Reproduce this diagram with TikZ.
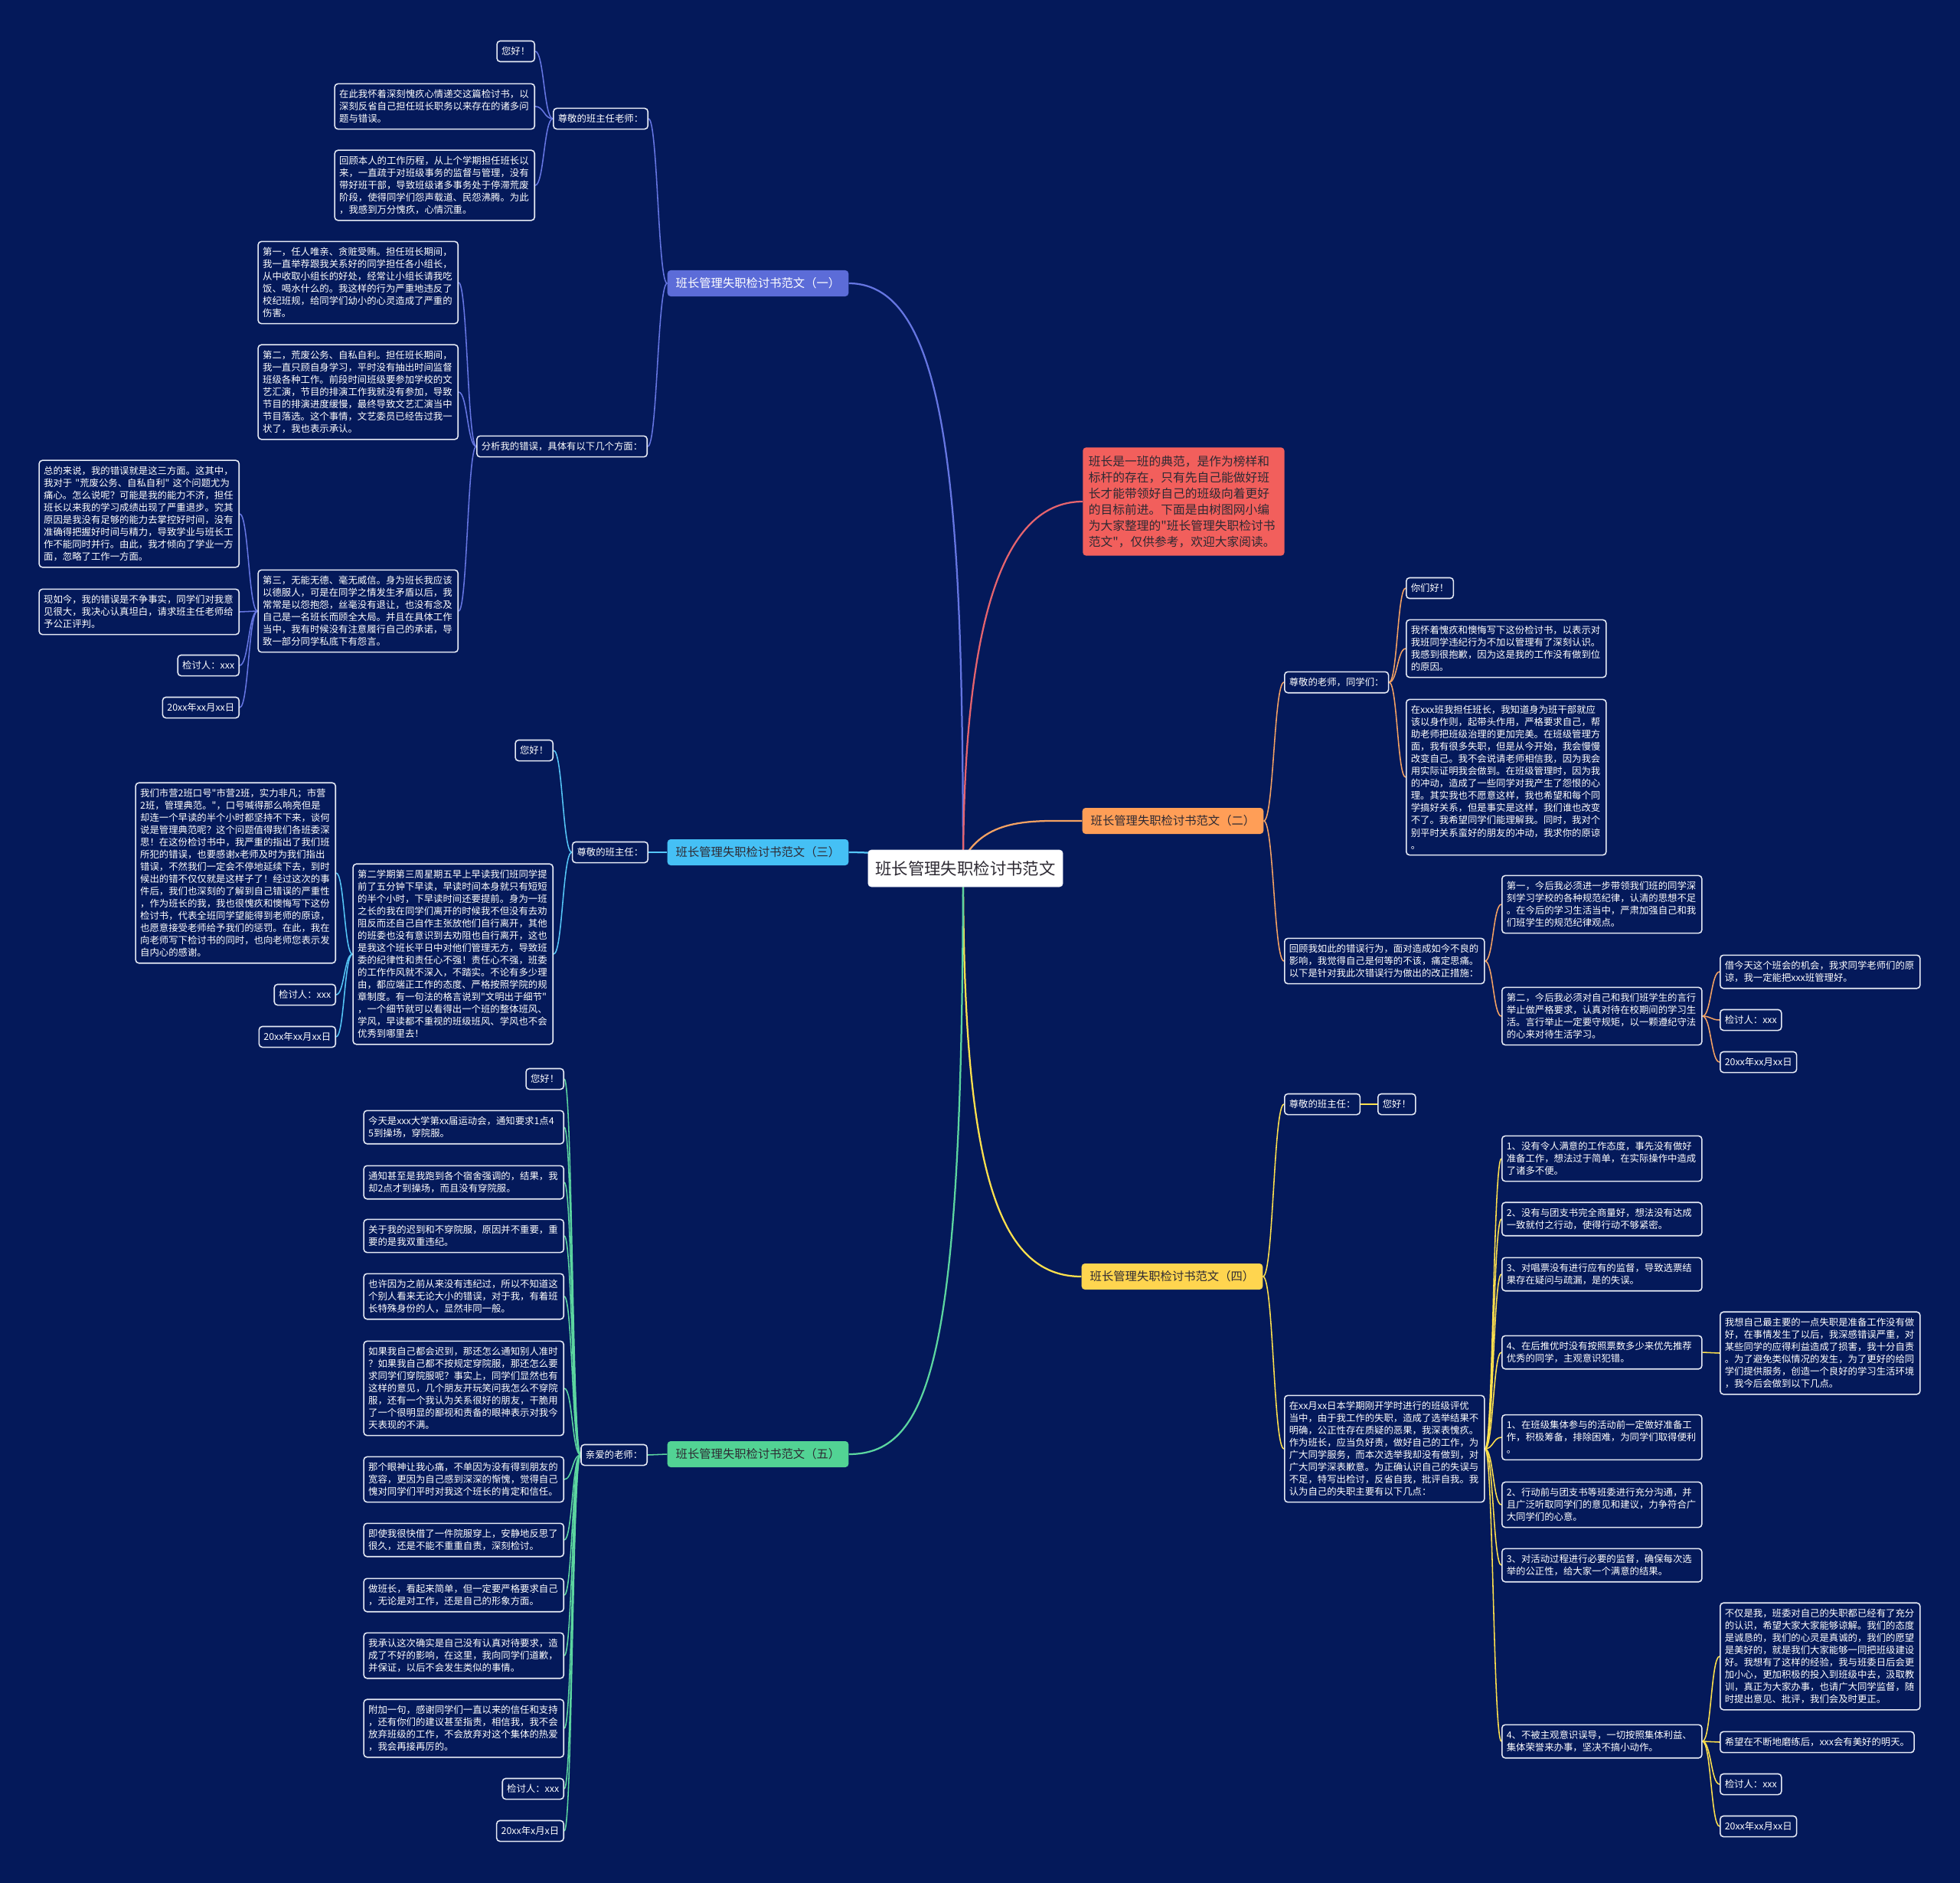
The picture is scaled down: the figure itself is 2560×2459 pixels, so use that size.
\documentclass[tikz,border=0pt]{standalone}
\usepackage{fontspec}
\newfontfamily\cjk{Noto Sans CJK SC}
\usetikzlibrary{calc}

\definecolor{bgc}{HTML}{04195A}
\definecolor{boxline}{HTML}{E6EAF5}
\definecolor{c1fill}{HTML}{5C6CD8}
\definecolor{c1line}{HTML}{6676E2}
\definecolor{c2fill}{HTML}{FF9E57}
\definecolor{c2line}{HTML}{F5A263}
\definecolor{c3fill}{HTML}{45C0F5}
\definecolor{c3line}{HTML}{55C6F7}
\definecolor{c4fill}{HTML}{FFD54F}
\definecolor{c4line}{HTML}{FFE14D}
\definecolor{c5fill}{HTML}{52D394}
\definecolor{c5line}{HTML}{5CD6A0}
\definecolor{introfill}{HTML}{F25F5C}
\definecolor{introline}{HTML}{E6646E}
\definecolor{darktext}{HTML}{2E2A33}

\pgfdeclarelayer{bglayer}
\pgfdeclarelayer{edgelayer}
\pgfsetlayers{bglayer,edgelayer,main}

\begin{document}
\begin{tikzpicture}[x=0.025cm, y=-0.025cm,
    leaf/.style={draw=boxline, line width=1.1pt, fill=bgc, rounded corners=3pt, text=white,
        font=\cjk\fontsize{8.8}{11.4}\selectfont, inner xsep=0.15cm, inner ysep=0.195cm},
    para/.style={leaf, text width=6.225cm, align=left},
    branch/.style={rounded corners=3pt, font=\cjk\fontsize{10.9}{13}\selectfont,
        inner xsep=0.275cm, minimum height=0.85cm, text=darktext},
    trunk/.style={line width=1.6pt},
    twig/.style={line width=1.1pt},
    link/.style={to path={let \p1=(\tikztostart), \p2=(\tikztotarget) in
        .. controls ({(\x1+\x2)/2},\y1) and ({(\x1+\x2)/2},\y2) .. (\tikztotarget)}}]

    \useasboundingbox (0,0) rectangle (2560,2459);
    \begin{pgfonlayer}{bglayer}
        \fill[bgc] (0,0) rectangle (2560,2459);
    \end{pgfonlayer}

    % centre and main branches
    \node[draw=boxline, fill=white, rounded corners=3pt, text=darktext, inner xsep=0.24cm,
        minimum height=1.2cm, font=\cjk\fontsize{15.2}{18}\selectfont] (root) at (1261,1134) {班长管理失职检讨书范文};
    \coordinate (hub) at (1258,1122);
    \node[branch, fill=c1fill, text=white] (b1) at (990,370) {班长管理失职检讨书范文（一）};
    \node[branch, fill=c2fill] (b2) at (1532,1072) {班长管理失职检讨书范文（二）};
    \node[branch, fill=c3fill] (b3) at (990,1113) {班长管理失职检讨书范文（三）};
    \node[branch, fill=c4fill] (b4) at (1531,1667) {班长管理失职检讨书范文（四）};
    \node[branch, fill=c5fill] (b5) at (990,1899) {班长管理失职检讨书范文（五）};
    \node[fill=introfill, rounded corners=3pt, text=darktext, anchor=west, text width=6.2cm, align=left,
        inner xsep=0.19cm, inner ysep=0.26cm, font=\cjk\fontsize{11.2}{15}\selectfont] (intro) at (1414,655)
        {班长是一班的典范，是作为榜样和\\标杆的存在，只有先自己能做好班\\长才能带领好自己的班级向着更好\\的目标前进。下面是由树图网小编\\为大家整理的"班长管理失职检讨书\\范文"，仅供参考，欢迎大家阅读。};

    % (一)
    \node[leaf, anchor=east] (t1) at (847,155) {尊敬的班主任老师：};
    \node[leaf, anchor=east] (t1a) at (699,67) {您好！};
    \node[para, anchor=east] (t1b) at (699,139) {在此我怀着深刻愧疚心情递交这篇检讨书，以\\深刻反省自己担任班长职务以来存在的诸多问\\题与错误。};
    \node[para, anchor=east] (t1c) at (699,242) {回顾本人的工作历程，从上个学期担任班长以\\来，一直疏于对班级事务的监督与管理，没有\\带好班干部，导致班级诸多事务处于停滞荒废\\阶段，使得同学们怨声载道、民怨沸腾。为此\\，我感到万分愧疚，心情沉重。};
    \node[leaf, anchor=east] (a1) at (846,583) {分析我的错误，具体有以下几个方面：};
    \node[para, anchor=east] (a1a) at (599,369) {第一，任人唯亲、贪赃受贿。担任班长期间，\\我一直举荐跟我关系好的同学担任各小组长，\\从中收取小组长的好处，经常让小组长请我吃\\饭、喝水什么的。我这样的行为严重地违反了\\校纪班规，给同学们幼小的心灵造成了严重的\\伤害。};
    \node[para, anchor=east] (a1b) at (599,512) {第二，荒废公务、自私自利。担任班长期间，\\我一直只顾自身学习，平时没有抽出时间监督\\班级各种工作。前段时间班级要参加学校的文\\艺汇演，节目的排演工作我就没有参加，导致\\节目的排演进度缓慢，最终导致文艺汇演当中\\节目落选。这个事情，文艺委员已经告过我一\\状了，我也表示承认。};
    \node[para, anchor=east] (a1c) at (599,798) {第三，无能无德、毫无威信。身为班长我应该\\以德服人，可是在同学之情发生矛盾以后，我\\常常是以怨抱怨，丝毫没有退让，也没有念及\\自己是一名班长而顾全大局。并且在具体工作\\当中，我有时候没有注意履行自己的承诺，导\\致一部分同学私底下有怨言。};
    \node[para, anchor=east] (c1) at (313,671) {总的来说，我的错误就是这三方面。这其中，\\我对于 "荒废公务、自私自利" 这个问题尤为\\痛心。怎么说呢？可能是我的能力不济，担任\\班长以来我的学习成绩出现了严重退步。究其\\原因是我没有足够的能力去掌控好时间，没有\\准确得把握好时间与精力，导致学业与班长工\\作不能同时并行。由此，我才倾向了学业一方\\面，忽略了工作一方面。};
    \node[para, anchor=east] (c2) at (313,799) {现如今，我的错误是不争事实，同学们对我意\\见很大，我决心认真坦白，请求班主任老师给\\予公正评判。};
    \node[leaf, anchor=east] (c3) at (313,869) {检讨人：xxx};
    \node[leaf, anchor=east] (c4) at (313,924) {20xx年xx月xx日};

    % (二)
    \node[leaf, anchor=west] (t2) at (1677,891) {尊敬的老师，同学们：};
    \node[leaf, anchor=west] (t2a) at (1836,768) {你们好！};
    \node[para, anchor=west] (t2b) at (1836,847) {我怀着愧疚和懊悔写下这份检讨书，以表示对\\我班同学违纪行为不加以管理有了深刻认识。\\我感到很抱歉，因为这是我的工作没有做到位\\的原因。};
    \node[para, anchor=west] (t2c) at (1836,1015) {在xxx班我担任班长，我知道身为班干部就应\\该以身作则，起带头作用，严格要求自己，帮\\助老师把班级治理的更加完美。在班级管理方\\面，我有很多失职，但是从今开始，我会慢慢\\改变自己。我不会说请老师相信我，因为我会\\用实际证明我会做到。在班级管理时，因为我\\的冲动，造成了一些同学对我产生了怨恨的心\\理。其实我也不愿意这样，我也希望和每个同\\学搞好关系，但是事实是这样，我们谁也改变\\不了。我希望同学们能理解我。同时，我对个\\别平时关系蛮好的朋友的冲动，我求你的原谅\\。};
    \node[para, anchor=west] (r2) at (1677,1255) {回顾我如此的错误行为，面对造成如今不良的\\影响，我觉得自己是何等的不该，痛定思痛。\\以下是针对我此次错误行为做出的改正措施：};
    \node[para, anchor=west] (r2a) at (1961,1181) {第一，今后我必须进一步带领我们班的同学深\\刻学习学校的各种规范纪律，认清的思想不足\\。在今后的学习生活当中，严肃加强自己和我\\们班学生的规范纪律观点。};
    \node[para, anchor=west] (r2b) at (1961,1327) {第二，今后我必须对自己和我们班学生的言行\\举止做严格要求，认真对待在校期间的学习生\\活。言行举止一定要守规矩，以一颗遵纪守法\\的心来对待生活学习。};
    \node[para, anchor=west] (r2c) at (2246,1269) {借今天这个班会的机会，我求同学老师们的原\\谅，我一定能把xxx班管理好。};
    \node[leaf, anchor=west] (r2d) at (2246,1332) {检讨人：xxx};
    \node[leaf, anchor=west] (r2e) at (2246,1387) {20xx年xx月xx日};

    % (三)
    \node[leaf, anchor=east] (t3) at (847,1113) {尊敬的班主任：};
    \node[leaf, anchor=east] (t3a) at (723,980) {您好！};
    \node[para, anchor=east] (t3b) at (723,1246) {第二学期第三周星期五早上早读我们班同学提\\前了五分钟下早读，早读时间本身就只有短短\\的半个小时，下早读时间还要提前。身为一班\\之长的我在同学们离开的时候我不但没有去劝\\阻反而还自己自作主张放他们自行离开，其他\\的班委也没有意识到去劝阻也自行离开，这也\\是我这个班长平日中对他们管理无方，导致班\\委的纪律性和责任心不强！责任心不强，班委\\的工作作风就不深入，不踏实。不论有多少理\\由，都应端正工作的态度、严格按照学院的规\\章制度。有一句法的格言说到"文明出于细节"\\，一个细节就可以看得出一个班的整体班风、\\学风，早读都不重视的班级班风、学风也不会\\优秀到哪里去！};
    \node[para, anchor=east] (s1) at (439,1140) {我们市营2班口号"市营2班，实力非凡；市营\\2班，管理典范。"，口号喊得那么响亮但是\\却连一个早读的半个小时都坚持不下来，谈何\\说是管理典范呢？这个问题值得我们各班委深\\思！在这份检讨书中，我严重的指出了我们班\\所犯的错误，也要感谢x老师及时为我们指出\\错误，不然我们一定会不停地延续下去，到时\\候出的错不仅仅就是这样子了！经过这次的事\\件后，我们也深刻的了解到自己错误的严重性\\，作为班长的我，我也很愧疚和懊悔写下这份\\检讨书，代表全班同学望能得到老师的原谅，\\也愿意接受老师给予我们的惩罚。在此，我在\\向老师写下检讨书的同时，也向老师您表示发\\自内心的感谢。};
    \node[leaf, anchor=east] (s2) at (439,1299) {检讨人：xxx};
    \node[leaf, anchor=east] (s3) at (439,1354) {20xx年xx月xx日};

    % (四)
    \node[leaf, anchor=west] (t4) at (1677,1442) {尊敬的班主任：};
    \node[leaf, anchor=west] (t4a) at (1799,1442) {您好！};
    \node[para, anchor=west] (f4) at (1677,1892) {在xx月xx日本学期刚开学时进行的班级评优\\当中，由于我工作的失职，造成了选举结果不\\明确，公正性存在质疑的恶果，我深表愧疚。\\作为班长，应当负好责，做好自己的工作，为\\广大同学服务，而本次选举我却没有做到，对\\广大同学深表歉意。为正确认识自己的失误与\\不足，特写出检讨，反省自我，批评自我。我\\认为自己的失职主要有以下几点：};
    \node[para, anchor=west] (f4a) at (1961,1513) {1、没有令人满意的工作态度，事先没有做好\\准备工作，想法过于简单，在实际操作中造成\\了诸多不便。};
    \node[para, anchor=west] (f4b) at (1961,1592) {2、没有与团支书完全商量好，想法没有达成\\一致就付之行动，使得行动不够紧密。};
    \node[para, anchor=west] (f4c) at (1961,1664) {3、对唱票没有进行应有的监督，导致选票结\\果存在疑问与疏漏，是的失误。};
    \node[para, anchor=west] (f4d) at (1961,1766) {4、在后推优时没有按照票数多少来优先推荐\\优秀的同学，主观意识犯错。};
    \node[para, anchor=west] (f4e) at (1961,1877) {1、在班级集体参与的活动前一定做好准备工\\作，积极筹备，排除困难，为同学们取得便利\\。};
    \node[para, anchor=west] (f4f) at (1961,1965) {2、行动前与团支书等班委进行充分沟通，并\\且广泛听取同学们的意见和建议，力争符合广\\大同学们的心意。};
    \node[para, anchor=west] (f4g) at (1961,2044) {3、对活动过程进行必要的监督，确保每次选\\举的公正性，给大家一个满意的结果。};
    \node[para, anchor=west] (f4h) at (1961,2274) {4、不被主观意识误导，一切按照集体利益、\\集体荣誉来办事，坚决不搞小动作。};
    \node[para, anchor=west] (g1) at (2246,1767) {我想自己最主要的一点失职是准备工作没有做\\好，在事情发生了以后，我深感错误严重，对\\某些同学的应得利益造成了损害，我十分自责\\。为了避免类似情况的发生，为了更好的给同\\学们提供服务，创造一个良好的学习生活环境\\，我今后会做到以下几点。};
    \node[para, anchor=west] (g2) at (2246,2163) {不仅是我，班委对自己的失职都已经有了充分\\的认识，希望大家大家能够谅解。我们的态度\\是诚恳的，我们的心灵是真诚的，我们的愿望\\是美好的，就是我们大家能够一同把班级建设\\好。我想有了这样的经验，我与班委日后会更\\加小心，更加积极的投入到班级中去，汲取教\\训，真正为大家办事，也请广大同学监督，随\\时提出意见、批评，我们会及时更正。};
    \node[leaf, anchor=west] (g3) at (2246,2275) {希望在不断地磨练后，xxx会有美好的明天。};
    \node[leaf, anchor=west] (g4) at (2246,2330) {检讨人：xxx};
    \node[leaf, anchor=west] (g5) at (2246,2385) {20xx年xx月xx日};

    % (五)
    \node[leaf, anchor=east] (t5) at (846,1900) {亲爱的老师：};
    \node[leaf, anchor=east] (p1) at (737,1409) {您好！};
    \node[para, anchor=east] (p2) at (737,1472) {今天是xxx大学第xx届运动会，通知要求1点4\\5到操场，穿院服。};
    \node[para, anchor=east] (p3) at (737,1544) {通知甚至是我跑到各个宿舍强调的，结果，我\\却2点才到操场，而且没有穿院服。};
    \node[para, anchor=east] (p4) at (737,1614) {关于我的迟到和不穿院服，原因并不重要，重\\要的是我双重违纪。};
    \node[para, anchor=east] (p5) at (737,1693) {也许因为之前从来没有违纪过，所以不知道这\\个别人看来无论大小的错误，对于我，有着班\\长特殊身份的人，显然非同一般。};
    \node[para, anchor=east] (p6) at (737,1813) {如果我自己都会迟到，那还怎么通知别人准时\\？如果我自己都不按规定穿院服，那还怎么要\\求同学们穿院服呢？事实上，同学们显然也有\\这样的意见，几个朋友开玩笑问我怎么不穿院\\服，还有一个我认为关系很好的朋友，干脆用\\了一个很明显的鄙视和责备的眼神表示对我今\\天表现的不满。};
    \node[para, anchor=east] (p7) at (737,1932) {那个眼神让我心痛，不单因为没有得到朋友的\\宽容，更因为自己感到深深的惭愧，觉得自己\\愧对同学们平时对我这个班长的肯定和信任。};
    \node[para, anchor=east] (p8) at (737,2011) {即使我很快借了一件院服穿上，安静地反思了\\很久，还是不能不重重自责，深刻检讨。};
    \node[para, anchor=east] (p9) at (737,2083) {做班长，看起来简单，但一定要严格要求自己\\，无论是对工作，还是自己的形象方面。};
    \node[para, anchor=east] (p10) at (737,2162) {我承认这次确实是自己没有认真对待要求，造\\成了不好的影响，在这里，我向同学们道歉，\\并保证，以后不会发生类似的事情。};
    \node[para, anchor=east] (p11) at (737,2257) {附加一句，感谢同学们一直以来的信任和支持\\，还有你们的建议甚至指责，相信我，我不会\\放弃班级的工作，不会放弃对这个集体的热爱\\，我会再接再厉的。};
    \node[leaf, anchor=east] (p12) at (737,2336) {检讨人：xxx};
    \node[leaf, anchor=east] (p13) at (737,2391) {20xx年x月x日};

    % connectors
    \begin{pgfonlayer}{edgelayer}
        \draw[trunk, c1line] (b1.east) .. controls (1240,370) and (1257,650) .. (hub);
        \draw[trunk, introline] (hub) .. controls (1260,780) and (1320,655) .. (intro.west);
        \draw[trunk, c2line] (hub) to[out=60, in=180] (b2.west);
        \draw[trunk, c3line] (b3.east) to[out=0, in=180] (hub);
        \draw[trunk, c4line] (hub) .. controls (1257,1520) and (1300,1667) .. (b4.west);
        \draw[trunk, c5line] (hub) .. controls (1257,1760) and (1220,1899) .. (b5.east);

        \foreach \a/\b in {b1/t1, b1/a1, t1/t1a, t1/t1b, t1/t1c, a1/a1a, a1/a1b, a1/a1c,
                a1c/c1, a1c/c2, a1c/c3, a1c/c4}
            \draw[twig, c1line] (\a.west) to[link] (\b.east);
        \foreach \a/\b in {b2/t2, b2/r2, t2/t2a, t2/t2b, t2/t2c, r2/r2a, r2/r2b,
                r2b/r2c, r2b/r2d, r2b/r2e}
            \draw[twig, c2line] (\a.east) to[link] (\b.west);
        \foreach \a/\b in {b3/t3, t3/t3a, t3/t3b, t3b/s1, t3b/s2, t3b/s3}
            \draw[twig, c3line] (\a.west) to[link] (\b.east);
        \foreach \a/\b in {b4/t4, b4/f4, t4/t4a, f4/f4a, f4/f4b, f4/f4c, f4/f4d, f4/f4e, f4/f4f,
                f4/f4g, f4/f4h, f4d/g1, f4h/g2, f4h/g3, f4h/g4, f4h/g5}
            \draw[twig, c4line] (\a.east) to[link] (\b.west);
        \foreach \b in {p1,p2,p3,p4,p5,p6,p7,p8,p9,p10,p11,p12,p13}
            \draw[twig, c5line] (t5.west) to[link] (\b.east);
        \draw[twig, c5line] (b5.west) to[link] (t5.east);
    \end{pgfonlayer}
\end{tikzpicture}
\end{document}
